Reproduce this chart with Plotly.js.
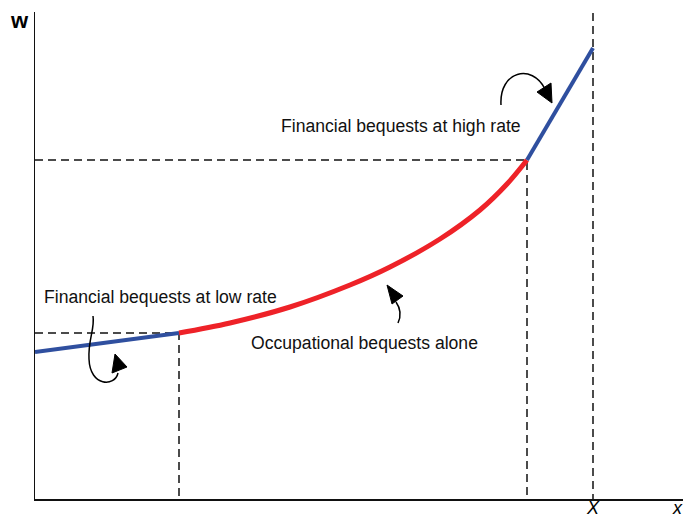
<!DOCTYPE html>
<html>
<head>
<meta charset="utf-8">
<script src="https://cdn.plot.ly/plotly-3.0.1.min.js"></script>
<style>html,body{margin:0;padding:0;background:#fff;}#chart{width:683px;height:518px;}</style>
</head>
<body>
<div id="chart"></div>
<script>
// Schematic values (abstract units)
const lowRateX = [0, 144];
const lowRateY = [147, 166];
const occupX = [144, 195, 255, 315, 355, 405, 445, 472, 492];
const occupY = [166, 176, 192, 214, 232, 260, 289, 315, 339];
const highRateX = [492, 558];
const highRateY = [339, 451];
const kinkLow = {x: 144, y: 166};
const kinkHigh = {x: 492, y: 339};
const bigX = 558;
const axisTop = 487;
const axisRight = 648;

const labels = {
  high: "Financial bequests at high rate",
  low: "Financial bequests at low rate",
  occ: "Occupational bequests alone",
  w: "w",
  X: "X",
  x: "x"
};

const blue = "#2f4f9f";
const red = "#ee2228";
const dashStyle = {color: "#111", width: 1.5, dash: "8px,5px"};

const traces = [
  {x: [0, kinkLow.x, kinkLow.x], y: [kinkLow.y, kinkLow.y, 0], mode: "lines", line: dashStyle, hoverinfo: "skip"},
  {x: [0, kinkHigh.x, kinkHigh.x], y: [kinkHigh.y, kinkHigh.y, 0], mode: "lines", line: dashStyle, hoverinfo: "skip"},
  {x: [bigX, bigX], y: [axisTop - 1, 0], mode: "lines", line: dashStyle, hoverinfo: "skip"},
  {x: lowRateX, y: lowRateY, mode: "lines", line: {color: blue, width: 4}},
  {x: occupX, y: occupY, mode: "lines", line: {color: red, width: 5, shape: "spline", smoothing: 1}},
  {x: highRateX, y: highRateY, mode: "lines", line: {color: blue, width: 4}}
];

const arrowLine = {color: "#000", width: 1.5};
const shapes = [
  // high-rate curved arrow
  {type: "path", path: "M 466 394 C 464 428, 497 436, 510 410", line: arrowLine, xref: "x", yref: "y"},
  {type: "path", path: "M 517 396 L 502 407 L 516 416 Z", fillcolor: "#000", line: {color: "#000", width: 1}, xref: "x", yref: "y"},
  // low-rate curved arrow
  {type: "path", path: "M 58 183 C 60 170, 53 160, 54 140 C 55 112, 80 112, 83 126", line: arrowLine, xref: "x", yref: "y"},
  {type: "path", path: "M 80 145 L 77 126 L 92 132 Z", fillcolor: "#000", line: {color: "#000", width: 1}, xref: "x", yref: "y"},
  // occupational arrow
  {type: "path", path: "M 363 176 Q 368 187 361 197", line: arrowLine, xref: "x", yref: "y"},
  {type: "path", path: "M 352 214 L 357 195 L 368 203 Z", fillcolor: "#000", line: {color: "#000", width: 1}, xref: "x", yref: "y"}
];

const fam = "Liberation Sans, Arial, sans-serif";
const txtFont = {family: fam, size: 17.6, color: "#111"};
const annotations = [
  {x: 366, y: 373, text: labels.high, showarrow: false, font: txtFont, xanchor: "center", yanchor: "middle"},
  {x: 125, y: 202, text: labels.low, showarrow: false, font: txtFont, xanchor: "center", yanchor: "middle"},
  {x: 329, y: 156, text: labels.occ, showarrow: false, font: txtFont, xanchor: "center", yanchor: "middle"},
  {xref: "paper", yref: "paper", x: -0.024, y: 0.982, text: "<b>" + labels.w + "</b>", showarrow: false, font: {family: fam, size: 22, color: "#000"}, xanchor: "center", yanchor: "middle"},
  {xref: "paper", yref: "paper", x: bigX / axisRight, y: -0.019, text: "<i>" + labels.X + "</i>", showarrow: false, font: {family: fam, size: 18, color: "#000"}, xanchor: "center", yanchor: "middle"},
  {xref: "paper", yref: "paper", x: 0.991, y: -0.019, text: "<i>" + labels.x + "</i>", showarrow: false, font: {family: fam, size: 18, color: "#000"}, xanchor: "center", yanchor: "middle"}
];

const layout = {
  width: 683, height: 518,
  margin: {l: 35, r: 0, t: 12, b: 19, pad: 0},
  paper_bgcolor: "#fff", plot_bgcolor: "#fff",
  showlegend: false,
  xaxis: {range: [0, axisRight], showgrid: false, zeroline: false, showticklabels: false, ticks: "", showline: true, linecolor: "#111", linewidth: 1.5, fixedrange: true},
  yaxis: {range: [0, axisTop], showgrid: false, zeroline: false, showticklabels: false, ticks: "", showline: true, linecolor: "#111", linewidth: 1.5, fixedrange: true},
  shapes: shapes,
  annotations: annotations
};

Plotly.newPlot("chart", traces, layout, {displayModeBar: false, staticPlot: true});
</script>
</body>
</html>
